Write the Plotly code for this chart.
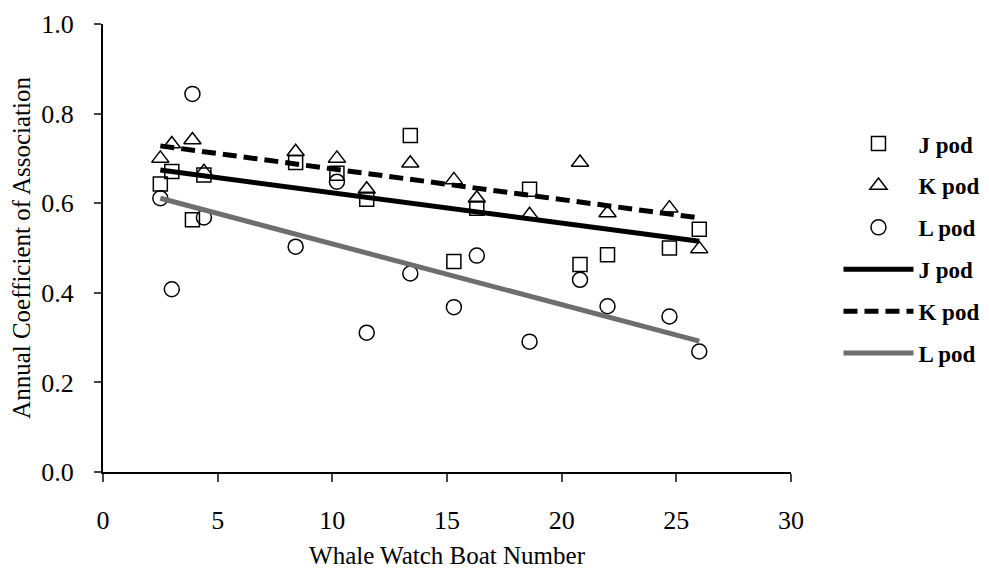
import plotly.graph_objects as go

boat_number = [2.5, 3.0, 3.9, 4.4, 8.4, 10.2, 11.5, 13.4, 15.3, 16.3, 18.6, 20.8, 22.0, 24.7, 26.0]
j_pod = [0.643, 0.671, 0.563, 0.663, 0.691, 0.667, 0.609, 0.751, 0.470, 0.589, 0.631, 0.463, 0.485, 0.500, 0.542]
k_pod = [0.700, 0.732, 0.741, 0.670, 0.715, 0.700, 0.631, 0.689, 0.652, 0.611, 0.574, 0.691, 0.578, 0.589, 0.498]
l_pod = [0.611, 0.408, 0.844, 0.568, 0.503, 0.648, 0.311, 0.443, 0.368, 0.483, 0.291, 0.429, 0.370, 0.347, 0.269]

trend_x = [2.5, 26.0]
j_trend = [0.674, 0.515]
k_trend = [0.728, 0.567]
l_trend = [0.611, 0.292]

x_ticks = [0, 5, 10, 15, 20, 25, 30]
y_ticks = [0.0, 0.2, 0.4, 0.6, 0.8, 1.0]

SERIF = "Liberation Serif, Times New Roman, serif"

fig = go.Figure()
fig.add_trace(go.Scatter(x=boat_number, y=j_pod, mode="markers", name="J pod", legendgroup="a",
                         marker=dict(symbol="square-open", size=14, color="black", line=dict(width=1.5))))
fig.add_trace(go.Scatter(x=boat_number, y=k_pod, mode="markers", name="K pod", legendgroup="b",
                         marker=dict(symbol="triangle-up-open", size=15, color="black", line=dict(width=1.5))))
fig.add_trace(go.Scatter(x=boat_number, y=l_pod, mode="markers", name="L pod", legendgroup="c",
                         marker=dict(symbol="circle-open", size=15, color="black", line=dict(width=1.5))))
fig.add_trace(go.Scatter(x=trend_x, y=j_trend, mode="lines", name="J pod", legendgroup="d",
                         line=dict(color="black", width=5)))
fig.add_trace(go.Scatter(x=trend_x, y=k_trend, mode="lines", name="K pod", legendgroup="e",
                         line=dict(color="black", width=5, dash="14px,7px")))
fig.add_trace(go.Scatter(x=trend_x, y=l_trend, mode="lines", name="L pod", legendgroup="f",
                         line=dict(color="#6e6e6e", width=5)))

# page body has an 8px default margin; size the figure so it fits the 989x571 window
fig.update_layout(
    width=981, height=563,
    margin=dict(l=95, r=198, t=16, b=99, autoexpand=False),
    paper_bgcolor="white", plot_bgcolor="white",
    font=dict(family=SERIF, size=26, color="black"),
    showlegend=True,
    legend=dict(x=1.069, y=0.781, xanchor="left", yanchor="top",
                font=dict(family=SERIF, size=23, color="black", weight="bold"),
                tracegroupgap=9, itemwidth=70, bgcolor="rgba(0,0,0,0)"),
    xaxis=dict(range=[0, 30], tickvals=x_ticks, ticks="outside", ticklen=8, tickwidth=1.5,
               showline=True, linecolor="black", linewidth=2, showgrid=False, zeroline=False,
               automargin=False, ticklabelstandoff=16,
               tickfont=dict(family=SERIF, size=26),
               title=dict(text="Whale Watch Boat Number", font=dict(family=SERIF, size=25), standoff=12)),
    yaxis=dict(range=[0, 1.0], tickvals=y_ticks, tickformat=".1f", ticks="outside", ticklen=7, tickwidth=1.5,
               showline=True, linecolor="black", linewidth=2, showgrid=False, zeroline=False,
               automargin=False, ticklabelstandoff=15,
               tickfont=dict(family=SERIF, size=26),
               title=dict(text="Annual Coefficient of Association", font=dict(family=SERIF, size=25), standoff=10)),
)

fig.write_html("out.html")
